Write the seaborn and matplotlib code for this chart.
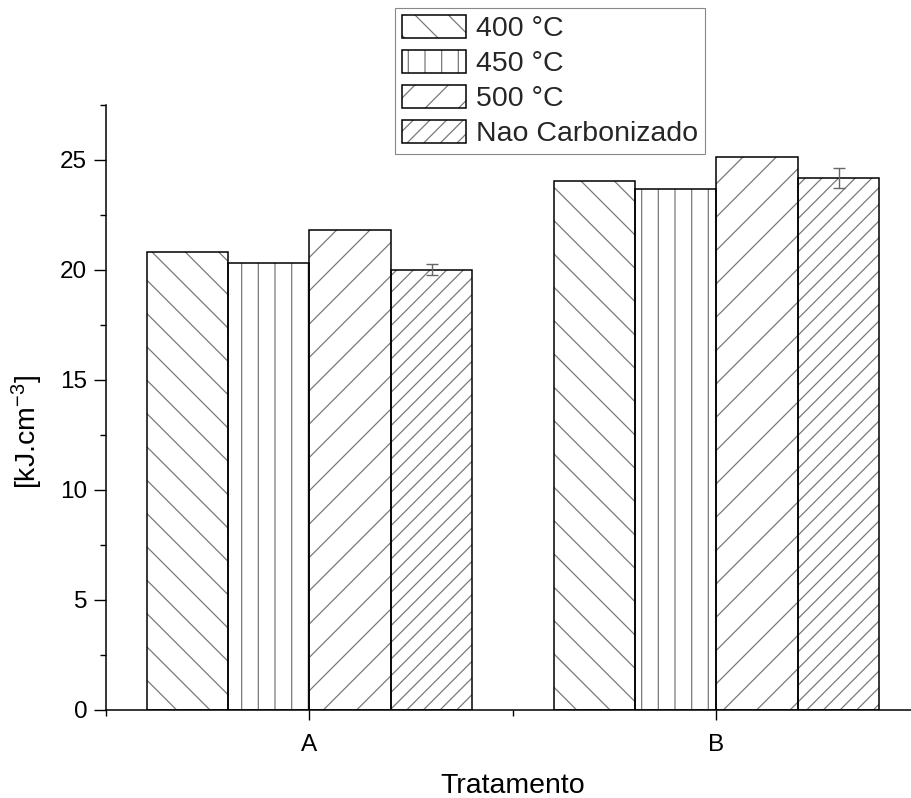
import matplotlib
matplotlib.use("Agg")
import matplotlib.pyplot as plt
from matplotlib.patches import Rectangle, Patch
from matplotlib.ticker import FixedLocator, MultipleLocator
from matplotlib.legend_handler import HandlerTuple
import seaborn as sns
import pandas as pd

# Data
categories = ["A", "B"]
series = ["400 °C", "450 °C", "500 °C", "Nao Carbonizado"]
values_400 = [20.84, 24.03]
values_450 = [20.34, 23.69]
values_500 = [21.80, 25.15]
values_nao = [20.02, 24.18]
err_nao = [0.24, 0.47]
y_ticks = [0, 5, 10, 15, 20, 25]

hatches = ["\\", "|", "/", "//"]

sns.set_style("ticks")
plt.rcParams["font.family"] = ["Liberation Sans", "DejaVu Sans"]
plt.rcParams["mathtext.default"] = "regular"
plt.rcParams["hatch.linewidth"] = 0.9

rows = []
for name, vals in zip(series, [values_400, values_450, values_500, values_nao]):
    for cat, v in zip(categories, vals):
        rows.append({"Tratamento": cat, "valor": v, "Temperatura": name})
df = pd.DataFrame(rows)

W, H, DPI = 912, 798, 100
fig = plt.figure(figsize=(W / DPI, H / DPI), dpi=DPI)
ax = fig.add_axes([106 / W, 88 / H, 814 / W, 605 / H])

hatch_gray = "#7a7a7a"
sns.barplot(data=df, x="Tratamento", y="valor", hue="Temperatura",
            hue_order=series, order=categories,
            palette=["white"] * 4, edgecolor=hatch_gray, linewidth=0,
            errorbar=None, width=0.8, legend=False, ax=ax)

# hatch each series, then outline bars in black
for cont, h in zip(ax.containers, hatches):
    for bar in cont:
        bar.set_hatch(h)
        ax.add_patch(Rectangle(bar.get_xy(), bar.get_width(), bar.get_height(),
                               fill=False, edgecolor="black", linewidth=1.1,
                               zorder=bar.get_zorder() + 0.1))

# error bars on the non-carbonized series
nao_bars = ax.containers[3]
xs = [b.get_x() + b.get_width() / 2 for b in nao_bars]
ax.errorbar(xs, values_nao, yerr=err_nao, fmt="none", ecolor="#666666",
            elinewidth=1.0, capsize=4, capthick=1.0, zorder=5)

ax.set_xlim(-0.5, 1.5)
ax.set_ylim(0, 27.5)
ax.yaxis.set_major_locator(FixedLocator(y_ticks))
ax.yaxis.set_minor_locator(MultipleLocator(2.5))
ax.xaxis.set_minor_locator(FixedLocator([-0.5, 0.5, 1.5]))

ax.tick_params(axis="both", which="major", direction="out", length=8.5,
               width=1.0, color="black", labelsize=17.5, labelcolor="black")
ax.tick_params(axis="y", which="major", pad=5)
ax.tick_params(axis="x", which="major", length=7, pad=10)
ax.tick_params(axis="both", which="minor", direction="out", length=4.5,
               width=1.0, color="black")

sns.despine(ax=ax)
for s in ["left", "bottom"]:
    ax.spines[s].set_linewidth(1.1)
    ax.spines[s].set_color("black")

ax.set_xlabel("Tratamento", fontsize=20.5, color="black")
ax.set_ylabel("[kJ.cm$^{-3}$]", fontsize=20.5, color="black")
ax.xaxis.set_label_coords(0.5, -0.104)
ax.yaxis.set_label_coords(-0.075, 0.46)

# legend: gray hatch with black outline
handles = []
for h in hatches:
    hp = Patch(facecolor="white", edgecolor=hatch_gray, hatch=h, linewidth=0)
    op = Patch(facecolor="none", edgecolor="black", linewidth=1.1)
    handles.append((hp, op))
leg = fig.legend(handles, series, loc="upper left",
                 bbox_to_anchor=(395 / W, 1 - 8 / H),
                 handler_map={tuple: HandlerTuple(ndivide=1, pad=0)},
                 fontsize=20.5, frameon=True, fancybox=False, framealpha=1,
                 edgecolor="#888888", handlelength=2.25, handleheight=0.85,
                 handletextpad=0.35, labelspacing=0.27, borderpad=0.25,
                 borderaxespad=0)
leg.get_frame().set_linewidth(0.8)

fig.savefig("out.png", dpi=DPI)
